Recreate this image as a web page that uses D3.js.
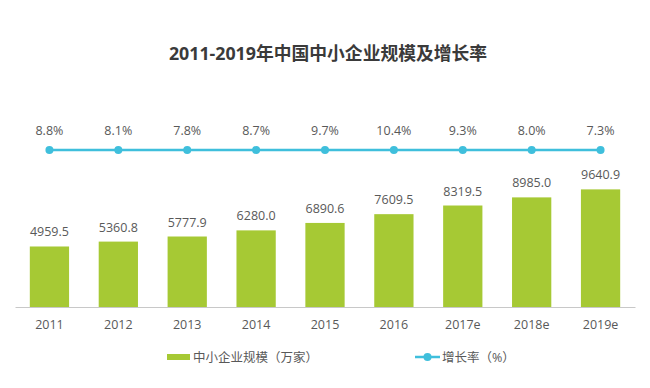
<!DOCTYPE html>
<html>
<head>
<meta charset="utf-8">
<script src="https://cdn.jsdelivr.net/npm/d3@7"></script>
<style>
  body { margin: 0; background: #fff; }
  text { font-family: "Open Sans", "Noto Sans CJK SC", sans-serif; }
</style>
</head>
<body>
<div id="chart"></div>
<script>
// chart data
const years = ["2011", "2012", "2013", "2014", "2015", "2016", "2017e", "2018e", "2019e"];
const scale = [4959.5, 5360.8, 5777.9, 6280.0, 6890.6, 7609.5, 8319.5, 8985.0, 9640.9];
const rate = [8.8, 8.1, 7.8, 8.7, 9.7, 10.4, 9.3, 8.0, 7.3];
const rateLabels = ["8.8%", "8.1%", "7.8%", "8.7%", "9.7%", "10.4%", "9.3%", "8.0%", "7.3%"];

const width = 650, height = 388;
const barColor = "#a6c934", lineColor = "#3fbfdc", textColor = "#595959";

const svg = d3.select("#chart").append("svg")
  .attr("width", width)
  .attr("height", height);

// title
svg.append("text")
  .attr("x", 328)
  .attr("y", 59.5)
  .attr("text-anchor", "middle")
  .style("font-size", "17.8px")
  .style("font-weight", "bold")
  .style("fill", "#3a3a3a")
  .text("2011-2019年中国中小企业规模及增长率");

// scales
const x = d3.scaleBand()
  .domain(years)
  .range([15, 635])
  .paddingInner(0.43)
  .paddingOuter(0.215);

const y = d3.scaleLinear()
  .domain([0, 10000])
  .range([307, 185]);

// growth rate line is drawn flat in the source chart
const yRate = d3.scaleLinear()
  .domain([0, 20])
  .range([150, 150]);

// bars
svg.selectAll("rect.bar")
  .data(scale)
  .join("rect")
  .attr("class", "bar")
  .attr("x", (d, i) => x(years[i]))
  .attr("y", d => y(d))
  .attr("width", x.bandwidth())
  .attr("height", d => y(0) - y(d))
  .style("fill", barColor);

// bar value labels
svg.selectAll("text.val")
  .data(scale)
  .join("text")
  .attr("class", "val")
  .attr("x", (d, i) => x(years[i]) + x.bandwidth() / 2)
  .attr("y", d => y(d) - 10)
  .attr("text-anchor", "middle")
  .style("font-size", "12.5px")
  .style("fill", textColor)
  .text(d => d.toFixed(1));

// x axis
const xAxis = svg.append("g")
  .attr("transform", `translate(0,${y(0)})`)
  .call(d3.axisBottom(x).tickSize(0).tickPadding(13));
xAxis.select(".domain").attr("stroke", "#c8c8c8");
xAxis.selectAll("text")
  .style("font-size", "12.5px")
  .style("fill", textColor)
  .style("font-family", "'Open Sans', sans-serif");

// line
const cx = (d, i) => x(years[i]) + x.bandwidth() / 2;
svg.append("path")
  .datum(rate)
  .attr("d", d3.line().x(cx).y(d => yRate(d)))
  .style("fill", "none")
  .style("stroke", lineColor)
  .style("stroke-width", 2.5);

svg.selectAll("circle.pt")
  .data(rate)
  .join("circle")
  .attr("class", "pt")
  .attr("cx", cx)
  .attr("cy", d => yRate(d))
  .attr("r", 4)
  .style("fill", lineColor);

svg.selectAll("text.rate")
  .data(rate)
  .join("text")
  .attr("class", "rate")
  .attr("x", cx)
  .attr("y", d => yRate(d) - 15)
  .attr("text-anchor", "middle")
  .style("font-size", "12.5px")
  .style("fill", textColor)
  .text((d, i) => rateLabels[i]);

// legend
const legend = svg.append("g");
legend.append("rect")
  .attr("x", 167).attr("y", 354)
  .attr("width", 23).attr("height", 6)
  .style("fill", barColor);
legend.append("text")
  .attr("x", 193).attr("y", 362)
  .style("font-size", "12.5px")
  .style("fill", textColor)
  .text("中小企业规模（万家）");

legend.append("line")
  .attr("x1", 415).attr("x2", 440)
  .attr("y1", 357).attr("y2", 357)
  .style("stroke", lineColor)
  .style("stroke-width", 2.5);
legend.append("circle")
  .attr("cx", 427.5).attr("cy", 357).attr("r", 4)
  .style("fill", lineColor);
legend.append("text")
  .attr("x", 442).attr("y", 362)
  .style("font-size", "12.5px")
  .style("fill", textColor)
  .text("增长率（%）");
</script>
</body>
</html>
